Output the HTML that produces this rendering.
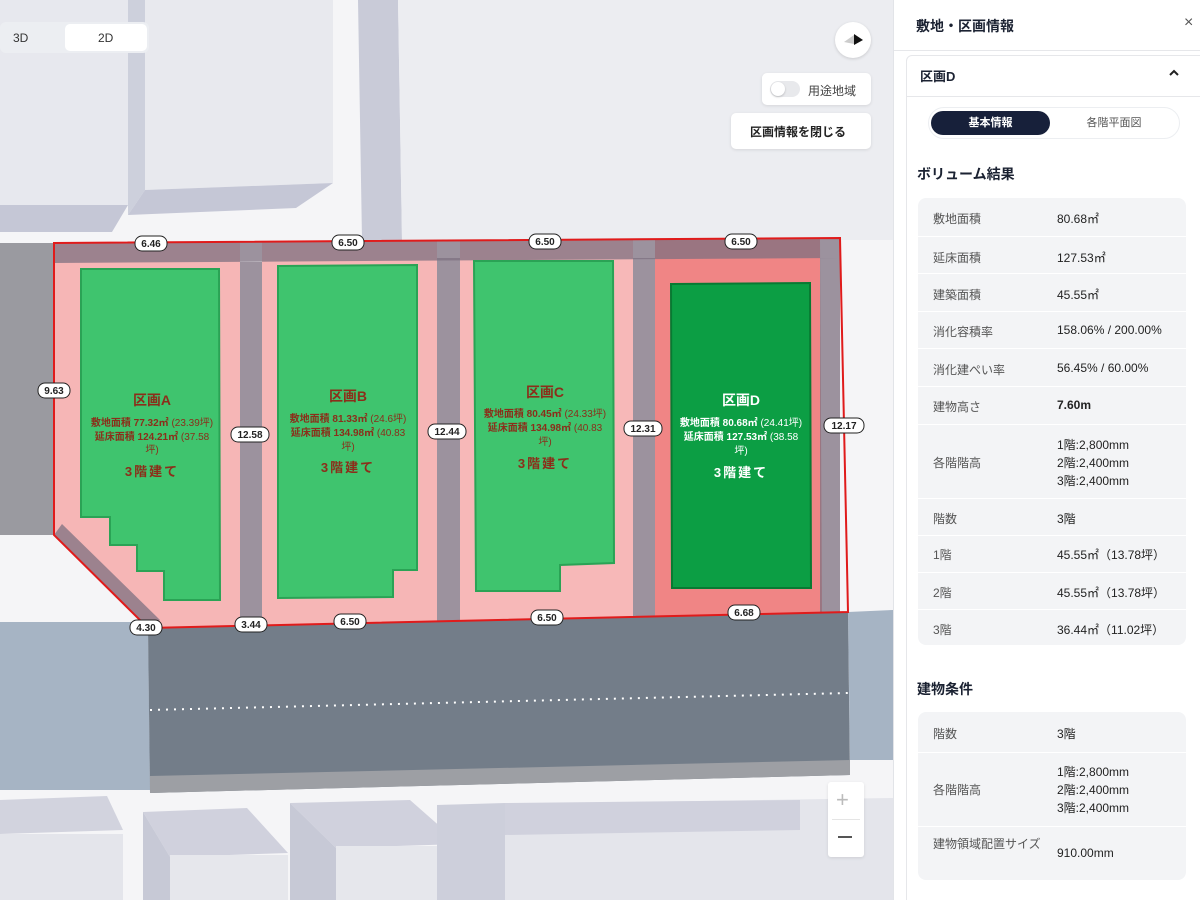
<!DOCTYPE html>
<html><head><meta charset="utf-8"><style>
*{margin:0;padding:0;box-sizing:border-box}
html,body{width:1200px;height:900px;overflow:hidden}
body{background:#f4f4f6;font-family:"Liberation Sans","Noto Sans CJK JP",sans-serif;position:relative}
#map{position:absolute;left:0;top:0}
.ab{position:absolute}
.panel{position:absolute;left:893px;top:0;width:307px;height:900px;background:#fff;border-left:1px solid #e2e4e8;overflow:hidden}
.lbl{position:absolute;font-size:12px;color:#555}
.val{position:absolute;font-size:12px;color:#222}
</style></head><body>
<svg id="map" width="893" height="900" viewBox="0 0 893 900" font-family="Liberation Sans, Noto Sans CJK JP, sans-serif">
<rect width="893" height="900" fill="#f5f5f7"/>
<polygon points="0,0 128,0 128,205 0,205" fill="#e7e8ee"/>
<polygon points="0,205 128,205 112,232 0,232" fill="#c5c7d6"/>
<polygon points="128,0 145,0 145,190 128,215" fill="#cdd0dc"/>
<polygon points="145,0 333,0 333,183 145,190" fill="#e8e9ee"/>
<polygon points="145,190 333,183 296,208 128,215" fill="#c5c7d6"/>
<polygon points="358,0 398,0 402,240 362,240" fill="#c9cbd8"/>
<polygon points="398,0 893,0 893,240 402,240" fill="#ecedf1"/>
<rect x="0" y="243" width="54" height="292" fill="#9a9aa0"/>
<polygon points="0,622 148,622 150,790 0,790" fill="#a6b4c4"/>
<polygon points="848,612 893,610 893,760 850,760" fill="#a6b4c4"/>
<polygon points="148,628 848,612 850,775 150,793" fill="#737d89"/>
<polygon points="150,776 850,760 850,775 150,793" fill="#9d9fa4"/>
<line x1="150" y1="710" x2="848" y2="693" stroke="#fff" stroke-width="2" stroke-dasharray="2 6"/>
<polygon points="0,800 107,796 123,830 0,834" fill="#d2d3de"/>
<rect x="0" y="834" width="123" height="66" fill="#e4e5eb"/>
<polygon points="143,812 247,808 288,853 170,857" fill="#d0d1dd"/>
<polygon points="143,812 170,857 170,900 143,900" fill="#c7c9d6"/>
<rect x="170" y="855" width="118" height="45" fill="#e6e7ec"/>
<polygon points="290,803 410,800 460,844 336,848" fill="#d0d1dd"/>
<polygon points="290,803 336,848 336,900 290,900" fill="#c7c9d6"/>
<rect x="336" y="846" width="125" height="54" fill="#e6e7ec"/>
<polygon points="437,805 893,798 893,900 437,900" fill="#e4e5eb"/>
<polygon points="437,805 505,803 505,900 437,900" fill="#cdcfdb"/>
<polygon points="505,803 800,800 800,830 505,835" fill="#d0d1dd"/>
<polygon points="54,243 240,242 240,625 148,628 54,535" fill="#f6b6b6"/>
<polygon points="262,242 437,241 437,622 262,625" fill="#f6b6b6"/>
<polygon points="460,241 633,240 633,617 460,621" fill="#f7b8b8"/>
<polygon points="655,240 820,239 822,613 655,616" fill="#f08585"/>
<g fill="#7e7080" fill-opacity="0.75">
<polygon points="54,243 840,238 840,258 54,263"/>
<rect x="240" y="262" width="22" height="363"/>
<rect x="437" y="258" width="23" height="364"/>
<rect x="633" y="258" width="22" height="359"/>
<rect x="820" y="258" width="20" height="355"/>
<polygon points="54,535 62,524 160,620 148,628"/>
</g>
<polygon points="81,269 219,269 220,600 164,600 164,571 137,571 137,545 110,545 110,517 81,517" fill="#3fc46e" stroke="#2aa355" stroke-width="2"/>
<polygon points="278,266 417,265 417,570 393,570 393,597 278,598" fill="#3fc46e" stroke="#2aa355" stroke-width="2"/>
<polygon points="474,261 613,261 614,563 560,565 560,591 476,591" fill="#3fc46e" stroke="#2aa355" stroke-width="2"/>
<polygon points="671,284 810,283 811,588 672,588" fill="#0c9e44" stroke="#087a32" stroke-width="2"/>
<polygon points="54,243 840,238 848,612 148,628 54,535" fill="none" stroke="#e01b1b" stroke-width="2"/>
<g font-weight="bold" text-anchor="middle">
<g fill="#8b2e1a">
<text x="152" y="405" font-size="14">区画A</text>
<text x="152" y="426" font-size="10">敷地面積 77.32㎡ <tspan font-weight="normal">(23.39坪)</tspan></text>
<text x="152" y="440" font-size="10">延床面積 124.21㎡ <tspan font-weight="normal">(37.58</tspan></text>
<text x="152" y="453" font-size="10" font-weight="normal">坪)</text>
<text x="152" y="476" font-size="13" letter-spacing="2">3階建て</text>
<text x="348" y="401" font-size="14">区画B</text>
<text x="348" y="422" font-size="10">敷地面積 81.33㎡ <tspan font-weight="normal">(24.6坪)</tspan></text>
<text x="348" y="436" font-size="10">延床面積 134.98㎡ <tspan font-weight="normal">(40.83</tspan></text>
<text x="348" y="450" font-size="10" font-weight="normal">坪)</text>
<text x="348" y="472" font-size="13" letter-spacing="2">3階建て</text>
<text x="545" y="397" font-size="14">区画C</text>
<text x="545" y="417" font-size="10">敷地面積 80.45㎡ <tspan font-weight="normal">(24.33坪)</tspan></text>
<text x="545" y="431" font-size="10">延床面積 134.98㎡ <tspan font-weight="normal">(40.83</tspan></text>
<text x="545" y="445" font-size="10" font-weight="normal">坪)</text>
<text x="545" y="468" font-size="13" letter-spacing="2">3階建て</text>
</g>
<g fill="#ffffff">
<text x="741" y="405" font-size="14">区画D</text>
<text x="741" y="426" font-size="10">敷地面積 80.68㎡ <tspan font-weight="normal">(24.41坪)</tspan></text>
<text x="741" y="440" font-size="10">延床面積 127.53㎡ <tspan font-weight="normal">(38.58</tspan></text>
<text x="741" y="454" font-size="10" font-weight="normal">坪)</text>
<text x="741" y="477" font-size="13" letter-spacing="2">3階建て</text>
</g>
</g>
<g font-size="10" font-weight="bold" text-anchor="middle" fill="#222">
<g stroke="#222" stroke-width="1" fill="#fff">
<rect x="135" y="236" width="32" height="15" rx="7"/>
<rect x="332" y="235" width="32" height="15" rx="7"/>
<rect x="529" y="234" width="32" height="15" rx="7"/>
<rect x="725" y="234" width="32" height="15" rx="7"/>
<rect x="38" y="383" width="32" height="15" rx="7"/>
<rect x="231" y="427" width="38" height="15" rx="7"/>
<rect x="428" y="424" width="38" height="15" rx="7"/>
<rect x="624" y="421" width="38" height="15" rx="7"/>
<rect x="824" y="418" width="40" height="15" rx="7"/>
<rect x="130" y="620" width="32" height="15" rx="7"/>
<rect x="235" y="617" width="32" height="15" rx="7"/>
<rect x="334" y="614" width="32" height="15" rx="7"/>
<rect x="531" y="610" width="32" height="15" rx="7"/>
<rect x="728" y="605" width="32" height="15" rx="7"/>
</g>
<text x="151" y="247">6.46</text><text x="348" y="246">6.50</text><text x="545" y="245">6.50</text><text x="741" y="245">6.50</text>
<text x="54" y="394">9.63</text><text x="250" y="438">12.58</text><text x="447" y="435">12.44</text><text x="643" y="432">12.31</text><text x="844" y="429">12.17</text>
<text x="146" y="631">4.30</text><text x="251" y="628">3.44</text><text x="350" y="625">6.50</text><text x="547" y="621">6.50</text><text x="744" y="616">6.68</text>
</g>
</svg>
<div class="ab" style="left:0;top:22px;width:149px;height:31px;background:#eceef2;border-radius:6px"></div>
<div class="ab" style="left:65px;top:24px;width:82px;height:27px;background:#fff;border-radius:5px"></div>
<div class="ab" style="left:13px;top:31px;font-size:12px;color:#333">3D</div>
<div class="ab" style="left:98px;top:31px;font-size:12px;color:#333">2D</div>
<div class="ab" style="left:835px;top:22px;width:36px;height:36px;border-radius:50%;background:#fff;box-shadow:0 1px 3px rgba(0,0,0,.15)"></div>
<svg class="ab" style="left:842px;top:32px" width="22" height="16"><polygon points="2,10 12,3 12,12" fill="#ccc"/><polygon points="12,2 21,8 12,13" fill="#111"/></svg>
<div class="ab" style="left:762px;top:73px;width:109px;height:32px;background:#fff;border-radius:5px;box-shadow:0 1px 3px rgba(0,0,0,.1)"></div>
<div class="ab" style="left:770px;top:81px;width:30px;height:16px;background:#e8e9ec;border-radius:8px"></div>
<div class="ab" style="left:771px;top:82px;width:14px;height:14px;background:#fff;border-radius:50%;box-shadow:0 1px 2px rgba(0,0,0,.2)"></div>
<div class="ab" style="left:808px;top:82px;font-size:12px;color:#444">用途地域</div>
<div class="ab" style="left:731px;top:113px;width:140px;height:36px;background:#fff;border-radius:5px;box-shadow:0 1px 3px rgba(0,0,0,.1)"></div>
<div class="ab" style="left:750px;top:123px;font-size:12px;font-weight:bold;color:#222">区画情報を閉じる</div>
<div class="ab" style="left:828px;top:782px;width:36px;height:75px;background:#fff;border-radius:3px;box-shadow:0 1px 3px rgba(0,0,0,.1)"></div>
<div class="ab" style="left:832px;top:819px;width:28px;height:1px;background:#e5e5e5"></div>
<div class="ab" style="left:836px;top:787px;font-size:22px;color:#bbb;line-height:26px">+</div>
<div class="ab" style="left:838px;top:836px;width:14px;height:2px;background:#555"></div>
<div class="panel">
<div class="ab" style="left:22px;top:16px;font-size:14px;font-weight:bold;color:#1b2232">敷地・区画情報</div>
<div class="ab" style="left:290px;top:14px;font-size:16px;color:#555">×</div>
<div class="ab" style="left:0;top:50px;width:307px;height:1px;background:#e6e7ea"></div>
<div class="ab" style="left:12px;top:55px;width:310px;height:860px;border:1px solid #e6e7ea;border-radius:6px"></div>
<div class="ab" style="left:26px;top:66px;font-size:13px;font-weight:bold;color:#1b2232">区画D</div>
<svg class="ab" style="left:274px;top:68px" width="12" height="10"><polyline points="2,7 6,3 10,7" fill="none" stroke="#222" stroke-width="2"/></svg>
<div class="ab" style="left:12px;top:96px;width:300px;height:1px;background:#e6e7ea"></div>
<div class="ab" style="left:34px;top:107px;width:252px;height:32px;border:1px solid #eceef1;border-radius:16px"></div>
<div class="ab" style="left:37px;top:111px;width:119px;height:24px;background:#17203a;border-radius:12px;color:#fff;font-size:11px;font-weight:bold;text-align:center;line-height:24px">基本情報</div>
<div class="ab" style="left:156px;top:111px;width:128px;height:24px;color:#555;font-size:11px;text-align:center;line-height:24px">各階平面図</div>
<div class="ab" style="left:23px;top:164px;font-size:14px;font-weight:bold;color:#1b2232">ボリューム結果</div>
<div class="ab" style="left:24px;top:198px;width:268px;height:447px;background:#f3f4f6;border-radius:8px"></div>
<div class="ab" style="left:24px;top:236px;width:268px;height:1px;background:#fff"></div>
<div class="ab" style="left:24px;top:273px;width:268px;height:1px;background:#fff"></div>
<div class="ab" style="left:24px;top:311px;width:268px;height:1px;background:#fff"></div>
<div class="ab" style="left:24px;top:348px;width:268px;height:1px;background:#fff"></div>
<div class="ab" style="left:24px;top:386px;width:268px;height:1px;background:#fff"></div>
<div class="ab" style="left:24px;top:424px;width:268px;height:1px;background:#fff"></div>
<div class="ab" style="left:24px;top:498px;width:268px;height:1px;background:#fff"></div>
<div class="ab" style="left:24px;top:535px;width:268px;height:1px;background:#fff"></div>
<div class="ab" style="left:24px;top:572px;width:268px;height:1px;background:#fff"></div>
<div class="ab" style="left:24px;top:609px;width:268px;height:1px;background:#fff"></div>
<div class="lbl" style="left:39px;top:210px">敷地面積</div><div class="val" style="left:163px;top:210px">80.68㎡</div>
<div class="lbl" style="left:39px;top:249px">延床面積</div><div class="val" style="left:163px;top:249px">127.53㎡</div>
<div class="lbl" style="left:39px;top:286px">建築面積</div><div class="val" style="left:163px;top:286px">45.55㎡</div>
<div class="lbl" style="left:39px;top:323px">消化容積率</div><div class="val" style="left:163px;top:323px">158.06% / 200.00%</div>
<div class="lbl" style="left:39px;top:361px">消化建ぺい率</div><div class="val" style="left:163px;top:361px">56.45% / 60.00%</div>
<div class="lbl" style="left:39px;top:398px">建物高さ</div><div class="val" style="left:163px;top:398px;font-weight:bold">7.60m</div>
<div class="lbl" style="left:39px;top:454px">各階階高</div><div class="val" style="left:163px;top:436px;line-height:18px">1階:2,800mm<br>2階:2,400mm<br>3階:2,400mm</div>
<div class="lbl" style="left:39px;top:510px">階数</div><div class="val" style="left:163px;top:510px">3階</div>
<div class="lbl" style="left:39px;top:546px">1階</div><div class="val" style="left:163px;top:546px">45.55㎡（13.78坪）</div>
<div class="lbl" style="left:39px;top:584px">2階</div><div class="val" style="left:163px;top:584px">45.55㎡（13.78坪）</div>
<div class="lbl" style="left:39px;top:621px">3階</div><div class="val" style="left:163px;top:621px">36.44㎡（11.02坪）</div>
<div class="ab" style="left:23px;top:679px;font-size:14px;font-weight:bold;color:#1b2232">建物条件</div>
<div class="ab" style="left:24px;top:712px;width:268px;height:168px;background:#f3f4f6;border-radius:8px"></div>
<div class="ab" style="left:24px;top:752px;width:268px;height:1px;background:#fff"></div>
<div class="ab" style="left:24px;top:826px;width:268px;height:1px;background:#fff"></div>
<div class="lbl" style="left:39px;top:725px">階数</div><div class="val" style="left:163px;top:725px">3階</div>
<div class="lbl" style="left:39px;top:781px">各階階高</div><div class="val" style="left:163px;top:763px;line-height:18px">1階:2,800mm<br>2階:2,400mm<br>3階:2,400mm</div>
<div class="lbl" style="left:39px;top:835px;width:120px;line-height:19px">建物領域配置サイズ</div><div class="val" style="left:163px;top:846px">910.00mm</div>
</div>
</body></html>
